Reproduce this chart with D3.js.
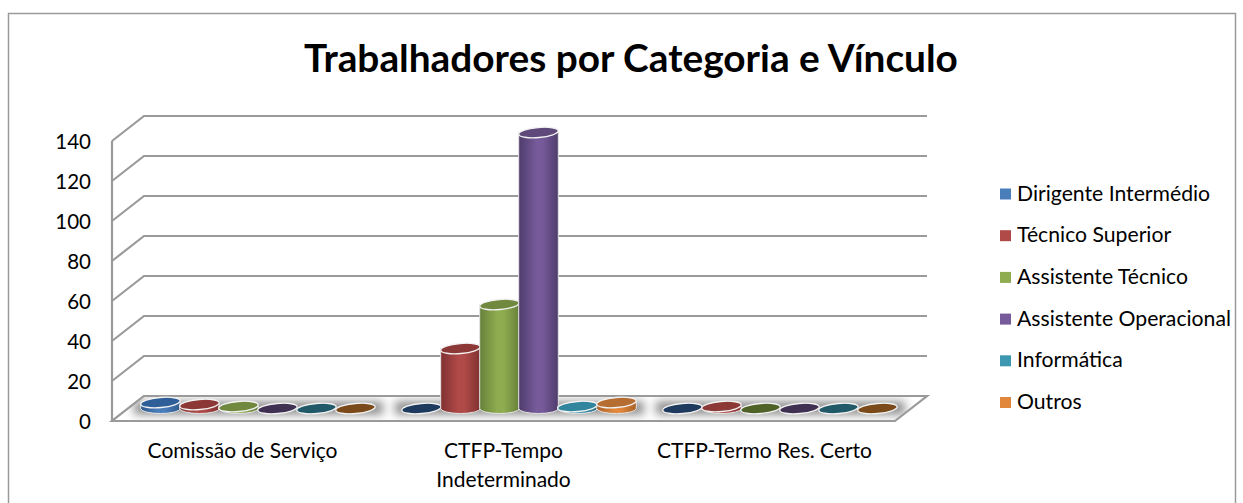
<!DOCTYPE html>
<html>
<head>
<meta charset="utf-8">
<script src="https://cdn.jsdelivr.net/npm/d3@7"></script>
<style>
  html, body { margin: 0; padding: 0; background: #fff; overflow: hidden; }
  text { font-family: Lato, "Open Sans", sans-serif; fill: #000; }
</style>
</head>
<body>
<svg id="chart" width="1243" height="503"></svg>
<script>
var categories = ['Comissão de Serviço', 'CTFP-Tempo Indeterminado', 'CTFP-Termo Res. Certo']
var categoryLines = [['Comissão de Serviço'], ['CTFP-Tempo', 'Indeterminado'], ['CTFP-Termo Res. Certo']]
var series = ['Dirigente Intermédio', 'Técnico Superior', 'Assistente Técnico', 'Assistente Operacional', 'Informática', 'Outros']

var dirigente = [3, 0, 0]
var tecnico = [2, 30, 1]
var assistenteTec = [1, 52, 0]
var assistenteOp = [0, 138, 0]
var informatica = [0, 1, 0]
var outros = [0, 3, 0]
var values = [dirigente, tecnico, assistenteTec, assistenteOp, informatica, outros]

var yTicks = [0, 20, 40, 60, 80, 100, 120, 140]

var mainColors = ['#4a7ebb', '#b04a48', '#8fad50', '#765a9a', '#3d97b0', '#e0873c']
var edgeColors = ['#2f5a8c', '#7f3130', '#67803a', '#4f3c6b', '#2a6d80', '#aa6127']
var topColors = ['#2f5f98', '#8c3836', '#71893f', '#5f497a', '#31859c', '#b66d31']
var flatColors = ['#1f3a5f', '#8c3836', '#4f6228', '#403152', '#215968', '#7a4a1a']

var svg = d3.select('#chart')
var gray = '#9a9a9a'
var left = 112, right = 895, bottom = 421
var depthX = 32, depthY = 25

var yScale = d3.scaleLinear().domain([0, 140]).range([bottom, 141])
var x0 = d3.scaleBand().domain(categories).range([left, right])
var x1 = d3.scaleBand().domain(series).range([13, x0.bandwidth() - 14])

var floorPath = 'M' + left + ',' + bottom + 'L' + right + ',' + bottom +
  'L' + (right + depthX) + ',' + (bottom - depthY) + 'L' + (left + depthX) + ',' + (bottom - depthY) + 'Z'

var defs = svg.append('defs')
defs.append('filter').attr('id', 'blur')
  .attr('x', '-10%').attr('y', '-80%').attr('width', '120%').attr('height', '260%')
  .append('feGaussianBlur').attr('stdDeviation', 5)

defs.append('clipPath').attr('id', 'floor-clip')
  .append('path').attr('d', floorPath)

mainColors.forEach(function(c, i) {
  var g = defs.append('linearGradient').attr('id', 'cyl' + i)
  g.append('stop').attr('offset', '0%').attr('stop-color', edgeColors[i])
  g.append('stop').attr('offset', '45%').attr('stop-color', c)
  g.append('stop').attr('offset', '60%').attr('stop-color', c)
  g.append('stop').attr('offset', '100%').attr('stop-color', edgeColors[i])
})

// outer frame
svg.append('rect')
  .attr('x', 8.5).attr('y', 13.5)
  .attr('width', 1227).attr('height', 520)
  .attr('fill', '#fff').attr('stroke', gray).attr('stroke-width', 1.5)

// title
svg.append('text')
  .attr('x', 631).attr('y', 72)
  .attr('text-anchor', 'middle')
  .attr('font-size', 38.8).attr('font-weight', 700)
  .text('Trabalhadores por Categoria e Vínculo')

// grid lines on the back and side walls
svg.append('g').selectAll('path')
  .data(yTicks).enter().append('path')
    .attr('d', function(d) {
      var y = yScale(d)
      return 'M' + left + ',' + y + 'L' + (left + depthX) + ',' + (y - depthY) + 'L' + (right + depthX) + ',' + (y - depthY)
    })
    .attr('fill', 'none').attr('stroke', gray).attr('stroke-width', 2.2)

// left axis line
svg.append('line')
  .attr('x1', left).attr('x2', left)
  .attr('y1', yScale(140)).attr('y2', yScale(0))
  .attr('stroke', gray).attr('stroke-width', 2.2)

// tick labels
svg.append('g').selectAll('text')
  .data(yTicks).enter().append('text')
    .attr('x', 91).attr('y', function(d) { return yScale(d) + 8 })
    .attr('text-anchor', 'end').attr('font-size', 20.5)
    .text(function(d) { return d })

// floor, with soft shadows under each group of bars
var floor = svg.append('g')
floor.append('path').attr('d', floorPath).attr('fill', '#fff')

floor.append('g').attr('clip-path', 'url(#floor-clip)')
  .selectAll('rect')
  .data(categories).enter().append('rect')
    .attr('x', function(d) { return x0(d) + depthX / 2 + 6 })
    .attr('y', bottom - depthY / 2 - 7)
    .attr('width', x0.bandwidth() - 12)
    .attr('height', 13)
    .attr('fill', '#8a8a8a')
    .attr('filter', 'url(#blur)')

floor.append('path').attr('d', floorPath)
  .attr('fill', 'none').attr('stroke', gray).attr('stroke-width', 2.2)

// cylinders
var rx = x1.bandwidth() / 2 + 0.3, ry = 5, tilt = -5
var shift = function(v) { return yScale(v) - depthY / 2 }

var cells = []
categories.forEach(function(c, ci) {
  series.forEach(function(s, si) {
    cells.push({ cat: c, ser: s, si: si, v: values[si][ci] })
  })
})

var bars = svg.append('g').selectAll('g')
  .data(cells).enter().append('g')
    .attr('transform', function(d) {
      return 'translate(' + (x0(d.cat) + depthX / 2 + x1(d.ser) + x1.bandwidth() / 2) + ',0)'
    })

bars.filter(function(d) { return d.v > 0 }).append('path')
  .attr('d', function(d) {
    var top = shift(d.v), base = shift(0)
    return 'M' + (-rx) + ',' + top + 'L' + (-rx) + ',' + base +
      'A' + rx + ',' + ry + ' 0 0 0 ' + rx + ',' + base + 'L' + rx + ',' + top + 'Z'
  })
  .attr('fill', function(d) { return 'url(#cyl' + d.si + ')' })
  .attr('stroke', '#e4e4e4').attr('stroke-width', 1)

bars.append('ellipse')
  .attr('rx', rx).attr('ry', ry)
  .attr('transform', function(d) { return 'translate(0,' + shift(d.v) + ') rotate(' + tilt + ')' })
  .attr('fill', function(d) { return d.v > 0 ? topColors[d.si] : flatColors[d.si] })
  .attr('stroke', '#f2f2f2').attr('stroke-width', 1.3)

// category labels
var catLabels = svg.append('g').selectAll('text')
  .data(categories).enter().append('text')
    .attr('text-anchor', 'middle')
    .attr('font-size', 21)
    .attr('x', function(d) { return x0(d) + x0.bandwidth() / 2 })
    .attr('y', 458)

catLabels.selectAll('tspan')
  .data(function(d, i) { return categoryLines[i] })
  .enter().append('tspan')
    .attr('x', function() { return d3.select(this.parentNode).attr('x') })
    .attr('dy', function(d, i) { return i ? 29 : 0 })
    .text(function(d) { return d })

// legend
var legendY = d3.scalePoint().domain(series).range([193.5, 402])
var legend = svg.append('g').selectAll('g')
  .data(series).enter().append('g')
    .attr('transform', function(d) { return 'translate(1000,' + legendY(d) + ')' })

legend.append('rect')
  .attr('x', 0).attr('y', -5)
  .attr('width', 11).attr('height', 11)
  .attr('fill', function(d, i) { return mainColors[i] })

legend.append('text')
  .attr('x', 17).attr('y', 7)
  .attr('font-size', 21.2)
  .text(function(d) { return d })
</script>
</body>
</html>
